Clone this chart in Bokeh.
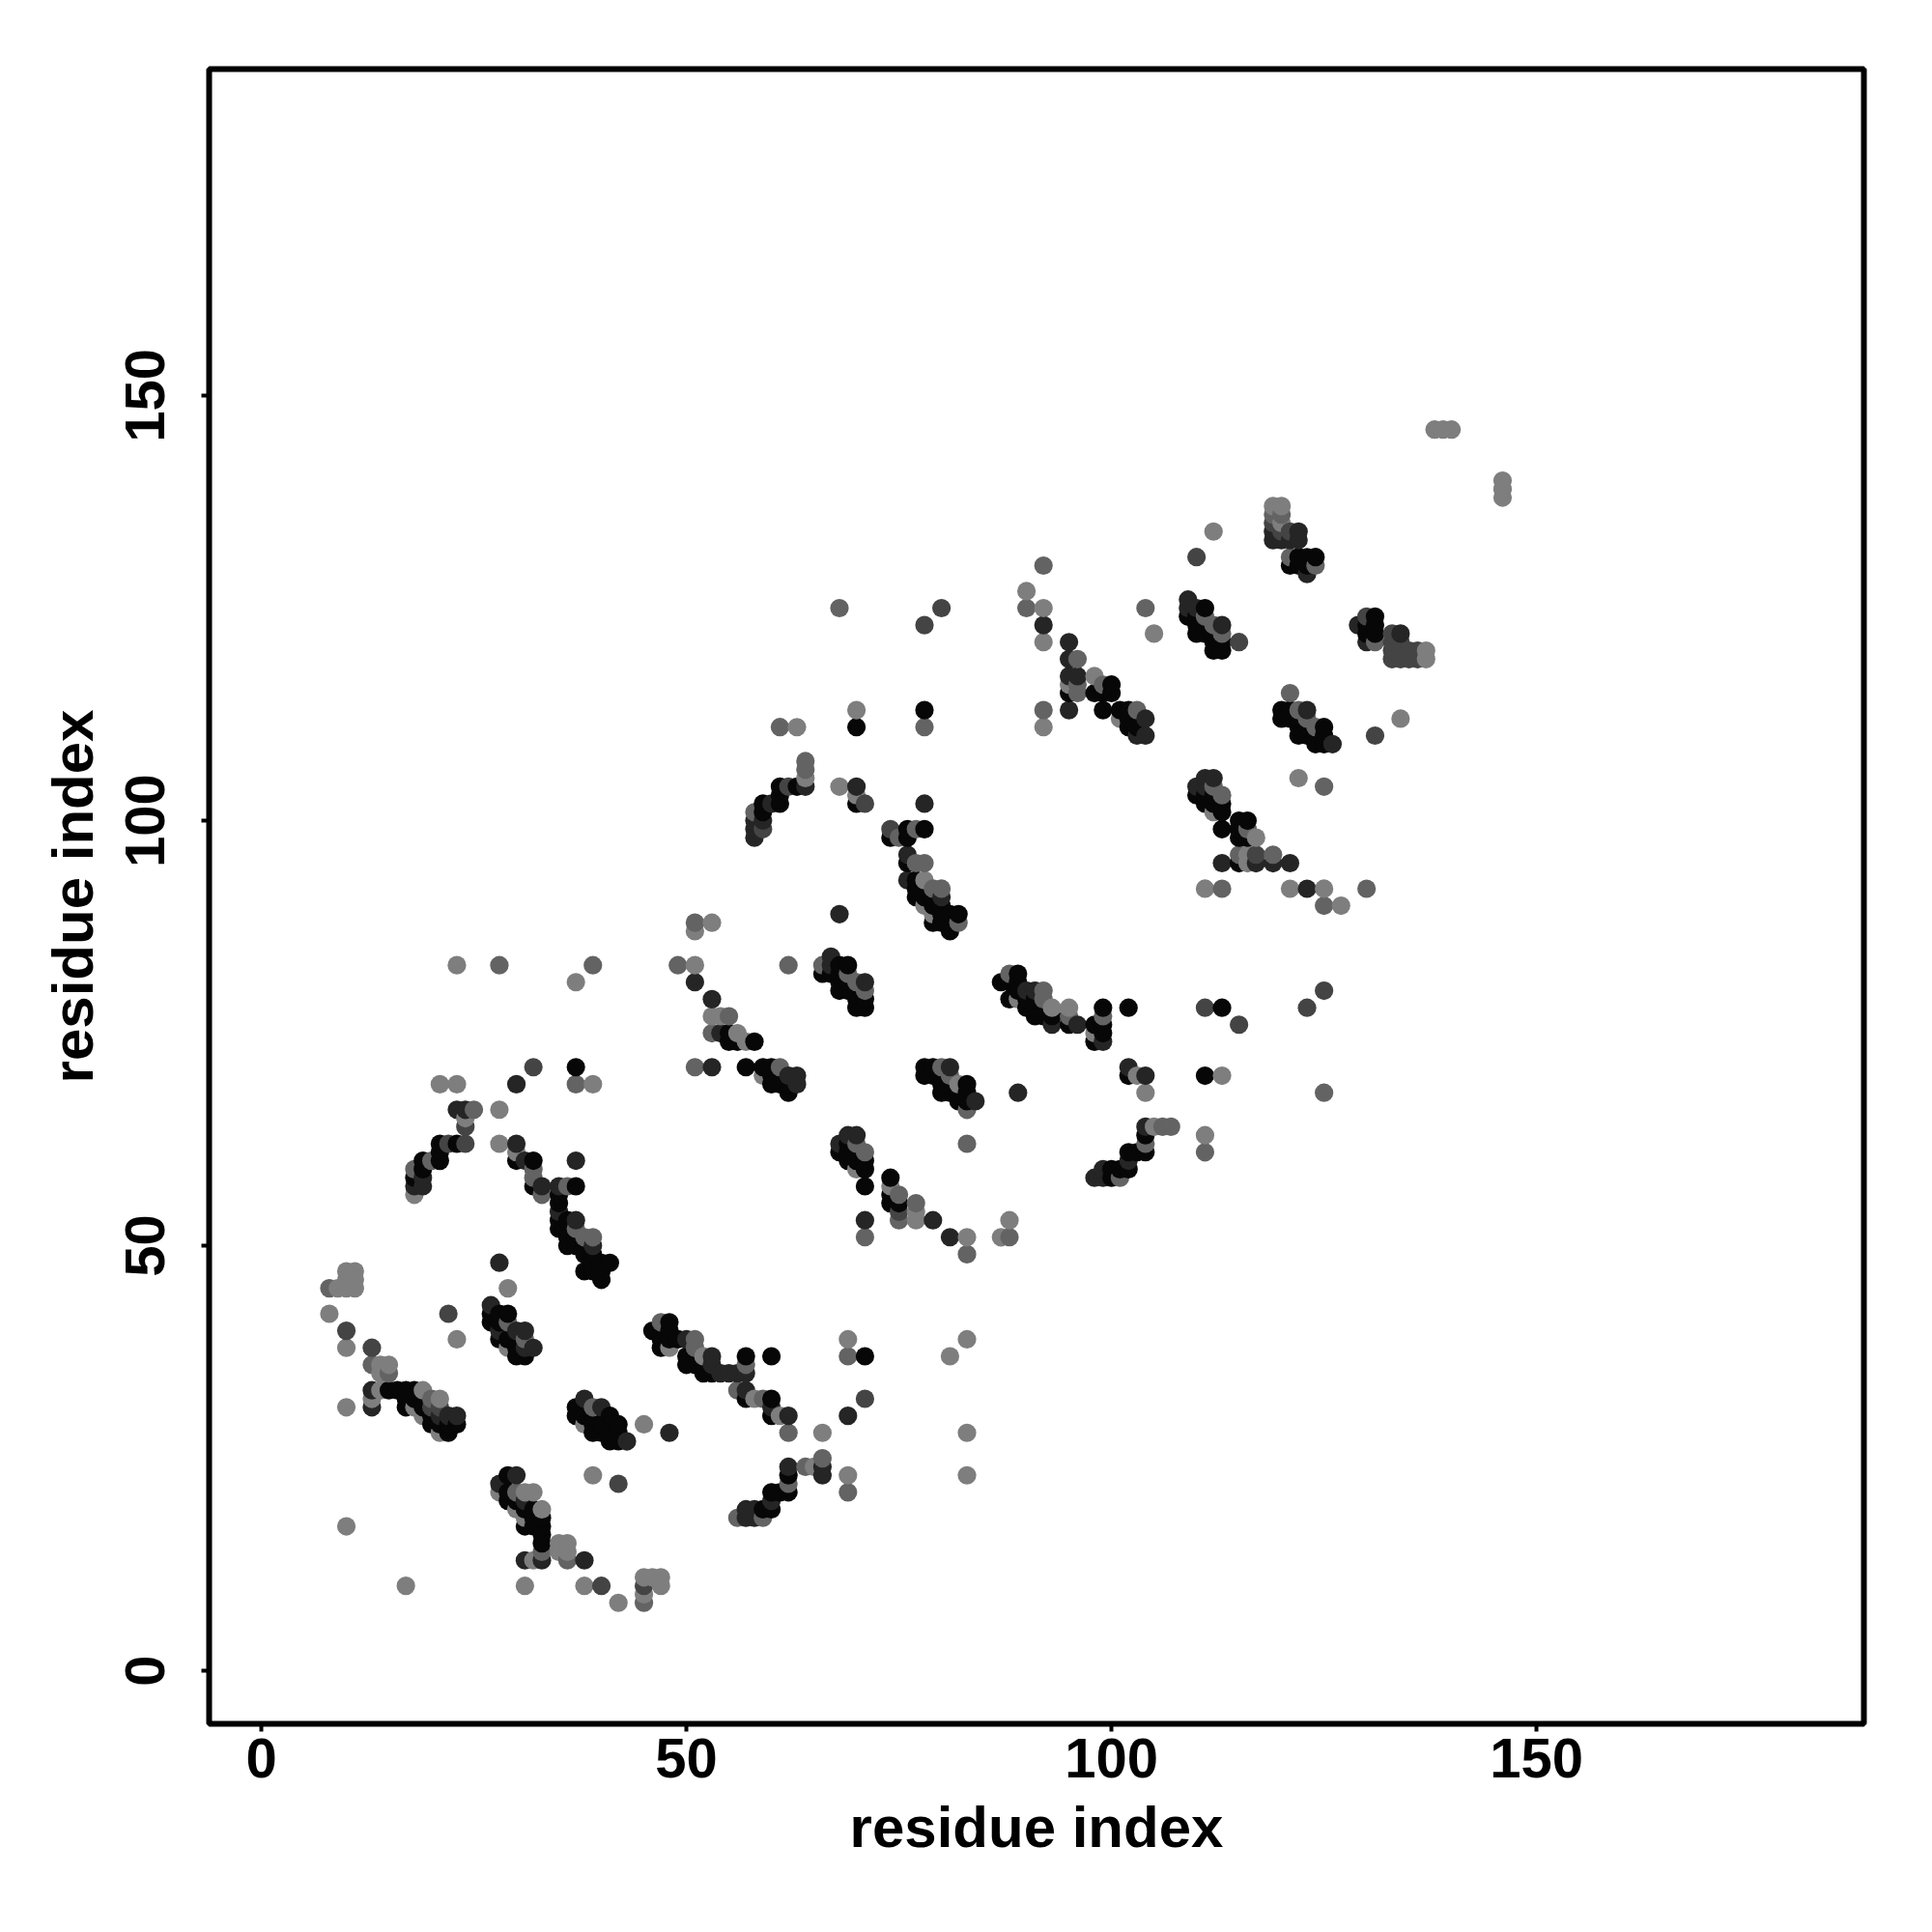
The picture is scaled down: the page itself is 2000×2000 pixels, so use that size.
from bokeh.plotting import figure
from bokeh.models import ColumnDataSource, FixedTicker, Range1d
from bokeh.embed import file_html
from bokeh.resources import INLINE

tick_values = [0, 50, 100, 150]
axis_title = "residue index"

contacts_black = [(15,33),(16,33),(17,33),(18,33),(17,32),(18,32),(17,31),(19,31),(20,30),(20,29),(21,29),(22,29),(22,28),(23,29),
(27,42),(27,41),(28,42),(29,42),(28,41),(28,39),(29,39),(30,38),(30,37),(31,37),
(29,23),(29,21),(29,20),(30,20),(31,19),(32,19),(32,18),(33,18),(31,17),(32,17),(33,17),(33,16),(33,15),
(37,31),(37,30),(38,31),(38,30),(39,30),(39,29),(39,28),(40,29),(40,28),(41,30),(41,28),(41,27),(42,29),(42,28),(42,27),
(35,52),(36,53),(36,52),(36,51),(36,50),(37,50),(37,51),(38,50),(38,49),(39,49),(38,47),(39,48),(39,47),(40,48),(40,47),(40,46),(41,48),(35,56),(35,55),(35,53),
(46,40),(48,41),(48,40),(48,39),(47,39),(47,38),(49,39),(50,37),(50,36),(51,37),(51,36),(52,35),(53,35),(57,37),(60,37),(57,32),(60,32),(60,30),
(71,37),(62,23),(60,21),(61,21),(62,21),(59,19),(60,19),
(37,71),(30,60),(32,60),(32,57),(37,57),(21,62),(21,61),(21,60),(19,60),(19,59),(18,58),(23,62),
(55,75),(55,74),(56,74),(58,74),(57,71),(59,71),(60,71),(60,70),(60,69),(61,69),(62,69),(62,68),
(68,83),(69,83),(67,82),(68,82),(68,81),(69,81),(68,80),(69,80),(70,80),(70,79),(71,79),(70,78),(71,78),(66,82),
(78,71),(79,71),(78,70),(79,70),(80,70),(80,69),(81,69),(83,69),(80,68),(81,68),(82,68),(83,68),(82,67),(83,67),
(69,62),(68,61),(69,61),(70,61),(69,60),(70,60),(71,60),(71,59),(71,57),(74,58),(74,56),(74,55),(75,55),
(87,81),(89,82),(89,81),(88,81),(88,79),(89,80),(90,79),(91,79),(90,78),(91,78),(91,77),(92,77),(93,77),(95,76),(99,78),(99,76),(98,76),(98,74),(99,75),(102,78),(113,78),
(102,70),(111,70),(104,63),(104,61),(103,61),(102,61),(102,59),(101,59),(100,59),(100,58),
(95,115),(98,115),(99,115),(100,115),(100,116),(99,113),(101,113),(102,113),(102,112),(102,111),(103,111),(78,113),(70,111),
(61,104),(61,103),(61,102),(59,102),(59,101),(63,104),(70,102),(78,99),(74,98),(76,99),(76,98),(76,95),(77,93),(77,92),(77,91),(78,91),(79,91),(79,88),(80,90),(81,89),(82,89),(81,88),(81,87),(80,89),(80,88),(79,90),
(109,124),(110,124),(111,125),(110,122),(110,123),(111,123),(111,122),(112,122),(112,120),(113,120),(112,121),(113,121),
(120,113),(121,113),(120,112),(121,112),(122,112),(125,111),(122,111),(123,111),(122,110),(123,110),(124,109),(125,109),(124,110),(125,110),
(110,103),(111,103),(112,103),(113,102),(111,102),(112,102),(113,101),(113,99),(115,100),(116,100),(115,99),(115,98),(116,98),(115,95),
(122,131),(123,131),(124,131),(121,130),(122,130),(123,130),(130,123),(131,124),(131,123),(130,122),(131,122)]

contacts_dark = [(28,48),(27,43),(30,40),(31,40),(32,38),(31,38),(28,40),(22,30),(23,30),(21,30),(13,33),(13,31),(28,22),(30,23),(31,20),
(38,32),(40,31),(43,27),(48,28),(50,39),(53,37),(53,36),(54,35),(55,35),(56,35),(57,35),(57,33),(60,31),(62,30),(69,30),(66,24),(66,23),(62,24),(57,19),(58,19),(57,18),(58,18),(60,20),
(71,53),(79,53),(81,51),(38,13),(31,13),(33,13),(51,81),(53,79),(54,75),(53,71),(30,69),(23,66),(24,66),(30,62),(31,60),(33,57),(37,60),(35,57),(35,54),(37,53),(39,50),(18,57),(19,58),(19,57),
(68,89),(67,84),(67,83),(71,81),(81,71),(84,67),(89,68),(68,62),(69,63),(70,63),(63,70),(63,69),(62,70),
(90,80),(91,80),(93,76),(96,76),(99,74),(102,71),(104,70),(104,64),(102,60),(99,59),(98,58),(99,58),
(95,121),(95,119),(95,117),(96,117),(95,113),(92,123),(60,102),(58,100),(59,100),(58,99),(58,98),(70,104),(80,91),(76,93),(76,96),(104,112),(104,110),(103,110),(64,104),
(109,126),(109,125),(110,125),(113,123),(123,113),(126,109),(110,104),(111,105),(112,105),(111,104),(119,95),(121,95),(113,95),(122,134),(122,133),(121,133),(119,134),(119,133),(120,133),(123,129),(129,123),(130,121),(134,122),(78,102),(123,92),(117,95)]

contacts_darkmid = [(10,40),(13,38),(22,42),(42,22),(40,10),(45,10),(71,32),(32,71),(80,125),(110,131),(111,78),(125,80),(115,121),(131,110),(74,99),(71,102),(62,104),(59,99),(120,134),
(121,134),(130,124),(133,122),(133,121),(133,120),(133,119),(134,121),(134,120),(134,119),(135,120),(135,119),(136,120),(136,119),(24,64),(24,62),(22,62),(115,76),(123,78),(119,135),(117,96),(75,54),(78,123),(20,31),(21,31)]

contacts_mid = [(13,36),(15,35),(45,8),(28,83),(39,83),(49,83),(51,88),(62,83),(66,83),(71,51),(83,49),(88,51),(69,37),(62,28),(66,25),(64,24),(62,22),(59,18),(56,18),(56,33),(59,32),(57,36),(29,41),(30,21),(39,31),(47,41),(51,39),(51,38),
(37,69),(51,71),(53,75),(55,77),(25,66),(32,59),(32,58),(33,56),(36,57),(37,52),(38,51),(39,51),(61,71),(71,80),(69,82),(70,81),(75,56),(75,53),(77,55),(71,61),(70,62),(83,66),(83,62),(80,71),(81,70),(88,82),(92,80),(92,79),(95,77),(99,77),(92,130),(18,59),(20,60),(58,101),
(125,68),(106,64),(107,64),(104,62),(101,58),(111,61),(69,21),(68,125),(90,125),(104,125),(96,119),(96,115),(99,116),(96,116),(103,113),(78,111),(61,111),(64,107),(64,106),(75,98),(77,99),(77,95),(78,95),(79,92),(80,92),(82,88),
(121,115),(122,113),(123,112),(124,111),(125,104),(125,90),(130,92),(113,92),(116,99),(115,96),(119,96),(112,123),(111,124),(113,122),(112,104),(113,103),(119,136),(120,136),(121,131),(124,130),(131,121),(92,113),(36,13),(33,14),(20,32),(31,39),(8,45)]

contacts_gray = [(8,42),(10,38),(10,31),(9,45),(10,45),(11,45),(10,47),(11,47),(10,46),(11,46),(14,36),(15,36),(14,35),(14,33),(13,32),(19,33),(21,32),(21,28),(18,31),(19,30),(29,45),(23,39),(10,17),(17,10),(31,10),(38,10),(42,8),(45,9),(46,11),(47,11),(47,10),(45,11),(35,15),(36,15),(35,14),(36,14),(32,13),(39,23),(45,29),(38,29),(28,21),(31,21),(32,21),(33,19),(30,19),(31,18),(29,38),
(23,83),(37,81),(51,83),(51,87),(53,88),(53,77),(54,77),(56,75),(57,74),(21,69),(23,69),(39,69),(24,65),(28,66),(28,62),(30,61),(18,56),(66,28),(69,39),(69,23),(83,39),(81,37),(83,28),(83,23),(61,30),(58,32),(65,24),(52,37),(48,38),
(89,79),(90,78),(93,78),(95,78),(98,75),(103,70),(113,70),(104,68),(111,63),(105,64),(59,70),(82,69),(70,59),(74,57),(77,54),(77,53),(83,51),(88,53),(87,51),(90,127),(92,125),(92,121),(70,113),(63,111),(92,111),(95,116),(98,117),(101,112),(105,122),(68,104),(70,103),(64,105),(78,93),(78,90),(79,89),(112,101),(117,98),(111,92),(116,96),(116,95),(121,92),(125,92),(127,90),(122,105),(134,112),(112,134),(119,137),(120,137),(120,135),(137,120),(137,119),(138,146),(139,146),(140,146),(146,140),(146,139),(146,138)]

shade_colors = {"black": "#070707", "dark": "#252525", "darkmid": "#444444", "mid": "#636363", "gray": "#7e7e7e"}

merged = {}
for name, pts in [("gray", contacts_gray), ("mid", contacts_mid), ("darkmid", contacts_darkmid),
                  ("dark", contacts_dark), ("black", contacts_black)]:
    for pt in pts:
        merged[pt] = shade_colors[name]
ordered = sorted(merged)
src = ColumnDataSource(dict(i=[a for a, b in ordered], j=[b for a, b in ordered],
                            c=[merged[k] for k in ordered]))

p = figure(width=1992, height=1984, output_backend="svg", toolbar_location=None,
           x_range=Range1d(-6.14, 188.5), y_range=Range1d(-6.23, 188.4),
           frame_width=1713, frame_height=1713,
           min_border_left=216, min_border_right=63, min_border_top=71, min_border_bottom=200,
           background_fill_color="white", border_fill_color="white")
p.grid.visible = False
p.outline_line_color = "black"
p.outline_line_width = 6
p.scatter("i", "j", source=src, size=19.2, marker="circle", fill_color="c", line_color=None)

for ax in (p.xaxis[0], p.yaxis[0]):
    ax.ticker = FixedTicker(ticks=tick_values)
    ax.axis_label = axis_title
    ax.axis_label_text_font = "Liberation Sans"
    ax.axis_label_text_font_style = "bold"
    ax.axis_label_text_font_size = "60px"
    ax.axis_label_text_color = "black"
    ax.major_label_text_font = "Liberation Sans"
    ax.major_label_text_font_style = "bold"
    ax.major_label_text_font_size = "58px"
    ax.major_label_text_color = "black"
    ax.axis_line_color = None
    ax.minor_tick_line_color = None
    ax.major_tick_line_color = "black"
    ax.major_tick_line_width = 4
    ax.major_tick_in = 0
    ax.major_tick_out = 8
p.xaxis[0].major_label_standoff = 7
p.xaxis[0].axis_label_standoff = 15
p.yaxis[0].major_label_standoff = 38
p.yaxis[0].axis_label_standoff = 19
p.yaxis[0].major_label_orientation = "vertical"

open("out.html", "w").write(file_html(p, INLINE))
